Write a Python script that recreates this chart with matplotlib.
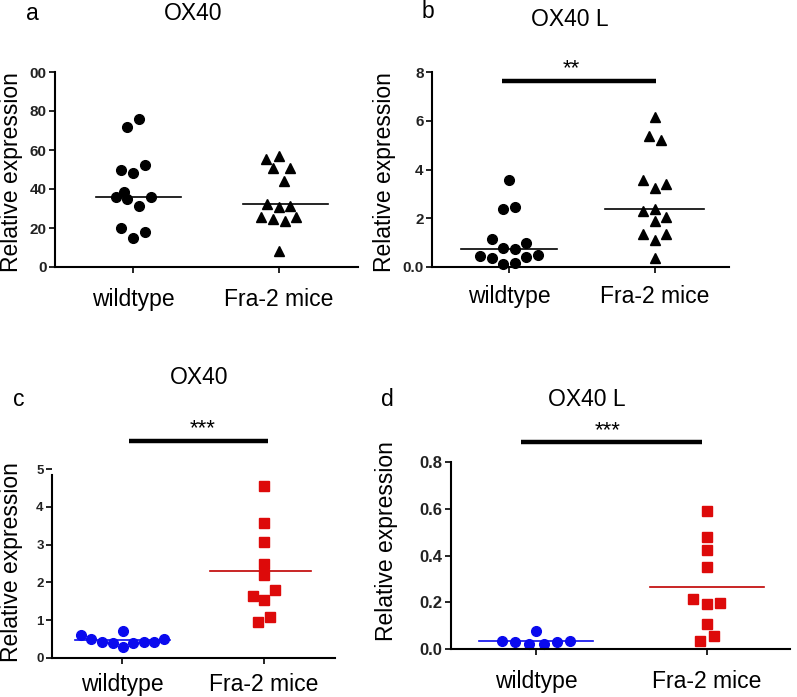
import matplotlib.pyplot as plt
import numpy as np

plt.rcParams["font.family"] = ["Liberation Sans", "DejaVu Sans"]

W, H = 797, 697
groups = ["wildtype", "Fra-2 mice"]

# panel a: OX40 (black)
a_wt = [76.0, 71.6, 49.5, 48.3, 52.1, 36.0, 38.4, 34.8, 36.0, 31.3, 19.9, 17.8, 15.1]
a_wt_dx = [0.041, -0.043, -0.080, 0.002, 0.080, -0.119, -0.064, -0.039, 0.121, 0.041, -0.080, 0.080, 0.002]
a_fr = [55.6, 56.8, 50.9, 51.0, 44.3, 32.2, 30.8, 31.2, 25.5, 24.5, 23.5, 25.5, 8.2]
a_fr_dx = [-0.087, 0.0, -0.039, 0.078, 0.037, -0.084, 0.0, 0.078, -0.121, -0.041, 0.039, 0.119, 0.0]
a_med = [36.0, 32.2]
a_yticks = [0, 20, 40, 60, 80, 100]
a_ylabels = ["0", "20", "40", "60", "80", "00"]

# panel b: OX40 L (black)
b_wt = [3.55, 2.40, 2.48, 1.15, 0.99, 0.79, 0.74, 0.47, 0.37, 0.41, 0.48, 0.14, 0.15]
b_wt_dx = [0.0, -0.039, 0.041, -0.116, 0.119, -0.039, 0.041, -0.201, -0.116, 0.119, 0.201, -0.039, 0.041]
b_fr = [6.14, 5.36, 5.23, 3.55, 3.40, 3.23, 2.30, 2.37, 2.05, 1.89, 1.34, 1.37, 1.12, 0.37]
b_fr_dx = [0.0, -0.041, 0.039, -0.080, 0.078, 0.0, -0.080, 0.0, 0.078, 0.0, -0.080, 0.078, 0.0, 0.0]
b_med = [0.74, 2.36]
b_yticks = [0, 2, 4, 6, 8]
b_ylabels = ["0.0", "2", "4", "6", "8"]

# panel c: OX40 (blue / red)
c_wt = [0.60, 0.50, 0.42, 0.39, 0.71, 0.29, 0.39, 0.42, 0.43, 0.49]
c_wt_dx = [-0.291, -0.216, -0.141, -0.066, 0.007, 0.007, 0.080, 0.153, 0.225, 0.298]
c_fr = [4.54, 3.57, 3.08, 2.50, 2.19, 1.80, 1.65, 1.53, 1.08, 0.94]
c_fr_dx = [0.0, 0.0, 0.0, 0.0, 0.0, 0.077, -0.077, 0.0, 0.040, -0.040]
c_med = [0.47, 2.31]
c_yticks = [0, 1, 2, 3, 4, 5]
c_ylabels = ["0", "1", "2", "3", "4", "5"]

# panel d: OX40 L (blue / red)
d_wt = [0.036, 0.028, 0.020, 0.078, 0.021, 0.031, 0.036]
d_wt_dx = [-0.199, -0.121, -0.039, 0.0, 0.045, 0.123, 0.201]
d_fr = [0.590, 0.479, 0.423, 0.350, 0.216, 0.192, 0.196, 0.107, 0.057, 0.036]
d_fr_dx = [0.0, 0.0, 0.0, 0.0, -0.082, 0.0, 0.078, 0.0, 0.039, -0.039]
d_med = [0.036, 0.264]
d_yticks = [0, 0.2, 0.4, 0.6, 0.8]
d_ylabels = ["0.0", "0.2", "0.4", "0.6", "0.8"]

FS = 16.5

fig = plt.figure(figsize=(W / 100, H / 100), dpi=100)


def make_ax(x0, x1, y_top, y_bot):
    return fig.add_axes([x0 / W, 1 - y_bot / H, (x1 - x0) / W, (y_bot - y_top) / H])


def ftext(x, y, s, **kw):
    # place text by pixel position (from top-left)
    return fig.text(x / W, 1 - y / H, s, fontsize=FS, ha="center", va="center", **kw)


def panel(ax, wt, wt_dx, fr, fr_dx, med, med_span, yticks, ylabels, ylim, xlim,
          wt_style, fr_style, med_colors, tick_fs, xpad):
    ax.plot(np.array(wt_dx), wt, linestyle="none", clip_on=False, **wt_style)
    ax.plot(1 + np.array(fr_dx), fr, linestyle="none", clip_on=False, **fr_style)
    for i, (m, sp) in enumerate(zip(med, med_span)):
        ax.plot([i + sp[0], i + sp[1]], [m, m], color=med_colors[i], lw=1.2, zorder=1)
    ax.set_xlim(*xlim)
    ax.set_ylim(*ylim)
    ax.set_xticks([0, 1])
    ax.set_xticklabels(groups, fontsize=FS)
    ax.set_yticks(yticks)
    ax.set_yticklabels(ylabels, fontsize=tick_fs, fontweight="bold", color="#222222")
    for s in ["top", "right"]:
        ax.spines[s].set_visible(False)
    for s in ["left", "bottom"]:
        ax.spines[s].set_linewidth(1.5)
    ax.tick_params(axis="y", length=4, width=1.2, pad=2)
    ax.tick_params(axis="x", length=4, width=1.2, pad=xpad)


def sig_bar(ax, x0, x1, y, label, tx, ty):
    ax.plot([x0, x1], [y, y], color="black", lw=3.2, solid_capstyle="butt", clip_on=False)
    ax.text(tx, ty, label, fontsize=16, ha="center", va="bottom")


black_c = dict(marker="o", color="black", markersize=7)
black_t = dict(marker="^", color="black", markersize=7)
blue_c = dict(marker="o", color="#0a0aee", markersize=7)
red_s = dict(marker="s", color="#dd0a0a", markersize=7)

# a
ax_a = make_ax(55, 358, 72, 267)
panel(ax_a, a_wt, a_wt_dx, a_fr, a_fr_dx, a_med, [(-0.25, 0.33), (-0.247, 0.336)],
      a_yticks, a_ylabels, (0, 100), (-0.534, 1.541), black_c, black_t,
      ["black", "black"], 11, 11)
ftext(32, 14, "a")
ftext(193, 14, "OX40")
ftext(12, 172, "Relative expression", rotation=90)

# b
ax_b = make_ax(432, 729, 72, 267)
panel(ax_b, b_wt, b_wt_dx, b_fr, b_fr_dx, b_med, [(-0.331, 0.329), (-0.345, 0.333)],
      b_yticks, b_ylabels, (0, 8), (-0.527, 1.507), black_c, black_t,
      ["black", "black"], 11, 9)
sig_bar(ax_b, -0.05, 1.01, 7.64, "**", 0.43, 7.7)
ftext(428, 12, "b")
ftext(570, 19, "OX40 L")
ftext(384, 172, "Relative expression", rotation=90)

# c
ax_c = make_ax(52, 335, 469, 658)
panel(ax_c, c_wt, c_wt_dx, c_fr, c_fr_dx, c_med, [(-0.329, 0.336), (-0.383, 0.333)],
      c_yticks, c_ylabels, (0, 5), (-0.493, 1.5), blue_c, red_s,
      ["#0a0aee", "#c00000"], 9.5, 7)
ax_c.spines["left"].set_bounds(0, 4.85)
sig_bar(ax_c, 0.05, 1.03, 5.75, "***", 0.57, 5.78)
ftext(19, 400, "c")
ftext(199, 377, "OX40")
ftext(12, 562, "Relative expression", rotation=90)

# d
ax_d = make_ax(451, 790, 462, 649)
panel(ax_d, d_wt, d_wt_dx, d_fr, d_fr_dx, d_med, [(-0.331, 0.333), (-0.331, 0.333)],
      d_yticks, d_ylabels, (0, 0.8), (-0.497, 1.485), blue_c, red_s,
      ["#0a0aee", "#c00000"], 12, 11)
sig_bar(ax_d, -0.09, 0.97, 0.885, "***", 0.42, 0.89)
ftext(387, 400, "d")
ftext(587, 399, "OX40 L")
ftext(386, 541, "Relative expression", rotation=90)

fig.savefig("out.png", dpi=100)
